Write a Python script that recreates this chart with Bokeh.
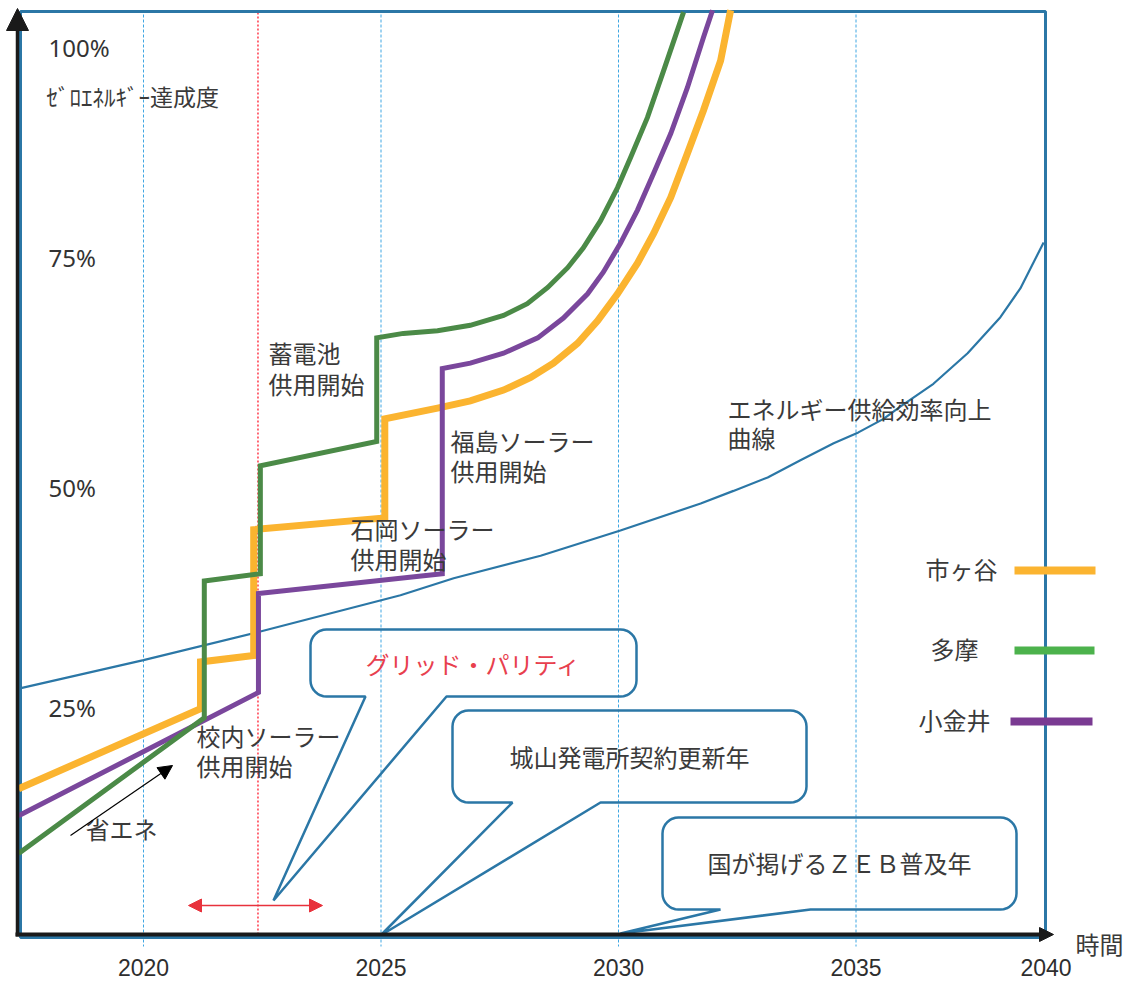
import math
from bokeh.plotting import figure
from bokeh.models import Range1d, Arrow, NormalHead
from bokeh.core.properties import value
from bokeh.embed import file_html
from bokeh.resources import INLINE

# ---------------- data (year, zero-energy achievement %) ----------------
ichigaya_x = [2017.37, 2021.20, 2021.20, 2022.32, 2022.32, 2025.08, 2025.08, 2026.19,
              2026.88, 2027.58, 2028.15, 2028.63, 2029.14, 2029.56, 2029.98, 2030.40,
              2030.74, 2031.10, 2031.45, 2031.79, 2032.15, 2032.36]
ichigaya_y = [16.3, 25.2, 30.4, 31.1, 45.1, 46.4, 57.4, 58.6,
              59.4, 60.6, 62.0, 63.6, 65.8, 68.3, 71.3, 74.7,
              78.0, 82.0, 86.9, 91.7, 97.2, 102.8]

tama_x = [2017.37, 2021.28, 2021.28, 2022.46, 2022.46, 2024.91, 2024.91, 2025.47,
          2026.19, 2026.88, 2027.58, 2028.08, 2028.51, 2028.93, 2029.26, 2029.62,
          2029.98, 2030.25, 2030.61, 2030.95, 2031.37]
tama_y = [9.1, 24.2, 39.4, 40.2, 52.2, 54.9, 66.4, 66.9,
          67.2, 67.8, 68.9, 70.2, 72.0, 74.2, 76.4, 79.4,
          83.1, 86.4, 90.9, 96.1, 102.6]

koganei_x = [2017.37, 2022.42, 2022.42, 2026.29, 2026.29, 2026.88, 2027.58, 2028.30,
             2028.84, 2029.35, 2029.68, 2030.04, 2030.40, 2030.74, 2031.10, 2031.45,
             2031.79, 2031.98]
koganei_y = [13.3, 27.0, 38.0, 40.2, 63.0, 63.6, 64.7, 66.4,
             68.6, 71.3, 73.7, 76.9, 80.6, 84.7, 89.1, 94.2,
             99.8, 102.8]

supply_x = [2017.35, 2020.00, 2022.40, 2025.41, 2026.53, 2028.36, 2030.04, 2031.73,
            2032.42, 2033.14, 2033.83, 2034.53, 2035.05, 2035.58, 2035.94, 2036.63,
            2037.35, 2038.04, 2038.46, 2038.95]
supply_y = [27.4, 30.6, 33.7, 37.8, 39.7, 42.2, 45.0, 48.0,
            49.4, 50.9, 52.8, 54.7, 55.9, 57.4, 58.8, 61.3,
            64.7, 68.7, 71.9, 77.0]

grid_years = [2020, 2025, 2030, 2035]
tick_years = [2020, 2025, 2030, 2035, 2039]
tick_labels = ["2020", "2025", "2030", "2035", "2040"]
pct_labels = ["100%", "75%", "50%", "25%"]
grid_parity_year = 2022.41
series_names = ["市ヶ谷", "多摩", "小金井"]

# ---------------- layout helpers (pixel layout -> data) ----------------
PX_PER_YEAR = 47.5
PX_PER_PCT = 9.0
X0 = 2020 - 143 / PX_PER_YEAR
def X(px): return X0 + px / PX_PER_YEAR
def Y(py): return (935 - py) / PX_PER_PCT

W, H = 1127, 984
p = figure(width=W, height=H, min_border=0,
           x_range=Range1d(X(0), X(W)), y_range=Range1d(Y(H), Y(0)),
           toolbar_location=None, output_backend="svg",
           x_axis_location=None, y_axis_location=None,
           background_fill_color="white", border_fill_color="white")
p.outline_line_color = None
p.xgrid.visible = False
p.ygrid.visible = False

BLUE = "#2b77a6"
JP = "Noto Sans CJK JP"
TXT = "#3a3a3a"

# dashed vertical guide lines
p.segment(x0=grid_years, y0=[Y(14)] * 4, x1=grid_years, y1=[Y(946)] * 4,
          line_color="#3fa6e3", line_width=1, line_dash="3 2")
p.segment(x0=[grid_parity_year], y0=[Y(12)], x1=[grid_parity_year], y1=[Y(935)],
          line_color="#ff2a3c", line_width=1.4, line_dash="2 2")

# frame box
p.quad(left=[X(20)], right=[X(1045)], top=[Y(11)], bottom=[Y(937)],
       fill_alpha=0, line_color=BLUE, line_width=3)

# curves
p.line(supply_x, supply_y, line_color=BLUE, line_width=2.2)
p.line(ichigaya_x, ichigaya_y, line_color="#fbb430", line_width=7, line_join="miter")
p.line(koganei_x, koganei_y, line_color="#7a479c", line_width=5, line_join="miter")
p.line(tama_x, tama_y, line_color="#4b8a47", line_width=5, line_join="miter")

# speech bubbles
def callout(x0, y0, x1, y1, b0, b1, tip, r=16):
    pts = []
    def arc(cx, cy, a0, a1):
        for i in range(9):
            a = math.radians(a0 + (a1 - a0) * i / 8)
            pts.append((cx + r * math.cos(a), cy + r * math.sin(a)))
    arc(x1 - r, y0 + r, -90, 0)
    arc(x1 - r, y1 - r, 0, 90)
    pts.append((b1, y1)); pts.append(tip); pts.append((b0, y1))
    arc(x0 + r, y1 - r, 90, 180)
    arc(x0 + r, y0 + r, 180, 270)
    xs = [X(a) for a, b in pts]; ys = [Y(b) for a, b in pts]
    p.patch(xs, ys, fill_alpha=0, line_color=BLUE, line_width=2.5)

callout(310, 629, 636, 696, 365, 446, (273, 900))
callout(452, 710, 806, 802, 512, 600, (380, 935))
callout(662, 817, 1016, 909, 720, 810, (620, 933))

def label(px_, py_, s, align="left", color=TXT, size="24px", font=JP):
    p.text(x=[X(px_)], y=[Y(py_)], text=[s], text_align=align, text_baseline="middle",
           text_font=value(font), text_font_size=size, text_color=color)

label(473, 663, "グリッド・パリティ", align="center", color="#e8404e")
label(629, 756, "城山発電所契約更新年", align="center")
label(839, 862, "国が掲げるＺＥＢ普及年", align="center")

# x tick labels
p.text(x=tick_years, y=[Y(967)] * len(tick_years), text=tick_labels,
       text_align="center", text_baseline="middle",
       text_font=value("Liberation Sans"), text_font_size="23px", text_color="#2e2e2e")

# y labels
for s, py in zip(pct_labels, [47, 257, 487, 707]):
    label(48, py, s, size="24px", font="Noto Sans", color="#333333")
label(46, 95, "ｾﾞﾛｴﾈﾙｷﾞｰ達成度", size="23px")

# annotations
label(268, 352, "蓄電池"); label(268, 383, "供用開始")
label(350, 528, "石岡ソーラー"); label(350, 558, "供用開始")
label(450, 440, "福島ソーラー"); label(450, 470, "供用開始")
label(196, 735, "校内ソーラー"); label(196, 765, "供用開始")
label(727, 408, "エネルギー供給効率向上"); label(727, 437, "曲線")
label(85, 828, "省エネ")
label(1075, 943, "時間")

# legend
legend_cols = ["#fbb430", "#4cb24c", "#7a3a92"]
for name, col, py, tx, x0l, x1l in zip(series_names, legend_cols, [570, 650, 721],
                                       [997, 978, 990], [1014, 1014, 1010], [1095, 1094, 1092]):
    label(tx, py - 2, name, align="right")
    p.segment(x0=[X(x0l)], y0=[Y(py)], x1=[X(x1l)], y1=[Y(py)], line_color=col, line_width=8)

# arrows
red_head = dict(size=13, fill_color="#e8323c", line_color="#e8323c")
p.add_layout(Arrow(end=NormalHead(**red_head), start=NormalHead(**red_head),
                   x_start=X(188), y_start=Y(905), x_end=X(322), y_end=Y(905),
                   line_color="#e8323c", line_width=1.5))
p.add_layout(Arrow(end=NormalHead(size=14, fill_color="black", line_color="black"),
                   x_start=X(70), y_start=Y(835), x_end=X(172), y_end=Y(765),
                   line_color="black", line_width=1.2))
p.add_layout(Arrow(end=NormalHead(size=22, fill_color="#1a1a1a", line_color="#1a1a1a"),
                   x_start=X(17), y_start=Y(936), x_end=X(17), y_end=Y(8),
                   line_color="#1a1a1a", line_width=3.5))
p.add_layout(Arrow(end=NormalHead(size=14, fill_color="#1a1a1a", line_color="#1a1a1a"),
                   x_start=X(15), y_start=Y(934), x_end=X(1053), y_end=Y(934),
                   line_color="#1a1a1a", line_width=4))

open("out.html", "w").write(file_html(p, INLINE))
